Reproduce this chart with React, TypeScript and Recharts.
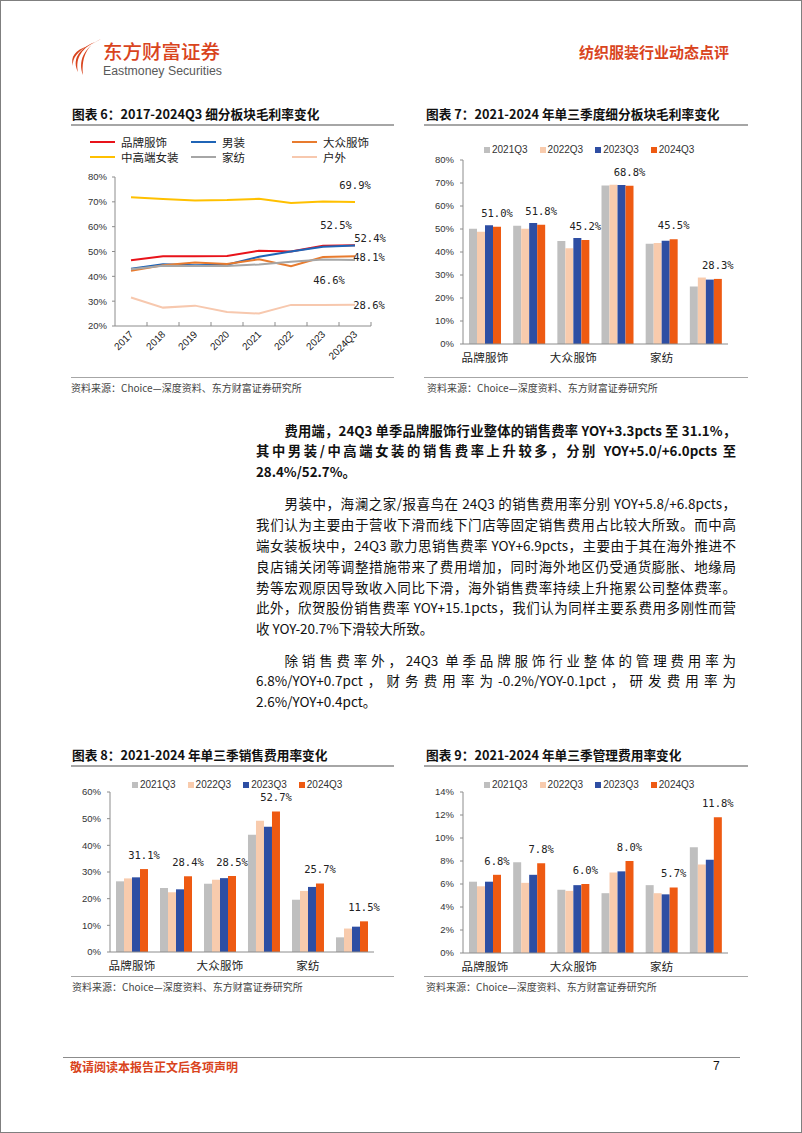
import React from "react";
import {
  LineChart,
  Line,
  BarChart,
  Bar,
  XAxis,
  YAxis,
  Legend,
  LabelList,
  ReferenceLine,
} from "recharts";

const CJK = '"Noto Sans CJK SC", "Noto Sans", sans-serif';
const LATIN = '"Liberation Sans", Arial, sans-serif';
const MONO = '"DejaVu Sans Mono", monospace';
const RED = "#D9441D";
const AXIS = "#8C8C8C";
const RULE = "#A6A6A6";

// 图表6：2017-2024Q3 细分板块毛利率（%）
const YEARS = ["2017", "2018", "2019", "2020", "2021", "2022", "2023", "2024Q3"];
const BRAND = [46.5, 48.1, 48.1, 48.2, 50.3, 50.0, 52.3, 52.5];
const MEN = [43.1, 44.9, 44.5, 44.7, 47.9, 50.0, 51.9, 52.4];
const MASS = [42.2, 44.5, 45.6, 45.0, 46.9, 44.1, 47.8, 48.1];
const WOMEN = [71.8, 71.1, 70.5, 70.7, 71.2, 69.5, 70.1, 69.9];
const HOME = [42.9, 44.3, 44.2, 44.2, 44.8, 45.9, 46.8, 46.6];
const OUTDOOR = [31.5, 27.4, 28.2, 25.6, 25.0, 28.5, 28.5, 28.6];
const LINE_TICKS = [20, 30, 40, 50, 60, 70, 80];

// 图表7-9：单三季度
const SEGMENTS = ["品牌服饰", "男装", "大众服饰", "中高端女装", "家纺", "户外"];
const QUARTERS = ["2021Q3", "2022Q3", "2023Q3", "2024Q3"];

const GM_21 = [50.1, 51.4, 44.8, 68.9, 43.6, 25.0];
const GM_22 = [48.8, 50.1, 41.6, 69.2, 43.9, 28.9];
const GM_23 = [51.6, 52.6, 46.1, 69.1, 44.9, 28.0];
const GM_24 = [51.0, 51.8, 45.2, 68.8, 45.5, 28.3];
const GM_TICKS = [0, 10, 20, 30, 40, 50, 60, 70, 80];

const SE_21 = [26.5, 24.0, 25.6, 44.0, 19.6, 5.5];
const SE_22 = [27.6, 22.4, 27.1, 49.2, 22.9, 8.8];
const SE_23 = [28.0, 23.5, 27.7, 47.0, 24.4, 9.5];
const SE_24 = [31.1, 28.4, 28.5, 52.7, 25.7, 11.5];
const SE_TICKS = [0, 10, 20, 30, 40, 50, 60];

const AD_21 = [6.2, 7.9, 5.5, 5.2, 5.9, 9.2];
const AD_22 = [5.8, 6.1, 5.4, 7.0, 5.2, 7.7];
const AD_23 = [6.2, 6.8, 5.9, 7.1, 5.1, 8.1];
const AD_24 = [6.8, 7.8, 6.0, 8.0, 5.7, 11.8];
const AD_TICKS = [0, 2, 4, 6, 8, 10, 12, 14];

const BAR_COLORS = ["#BFBFBF", "#F8CBAD", "#2E4EA3", "#EE5A12"];

const SOURCE = "资料来源：Choice—深度资料、东方财富证券研究所";

const PARAS = [
  {
    bold: true,
    lines: [
      "费用端，24Q3 单季品牌服饰行业整体的销售费率 YOY+3.3pcts 至 31.1%，",
      "其中男装/中高端女装的销售费率上升较多，分别 YOY+5.0/+6.0pcts 至",
      "28.4%/52.7%。",
    ],
  },
  {
    bold: false,
    lines: [
      "男装中，海澜之家/报喜鸟在 24Q3 的销售费用率分别 YOY+5.8/+6.8pcts，",
      "我们认为主要由于营收下滑而线下门店等固定销售费用占比较大所致。而中高",
      "端女装板块中，24Q3 歌力思销售费率 YOY+6.9pcts，主要由于其在海外推进不",
      "良店铺关闭等调整措施带来了费用增加，同时海外地区仍受通货膨胀、地缘局",
      "势等宏观原因导致收入同比下滑，海外销售费率持续上升拖累公司整体费率。",
      "此外，欣贺股份销售费率 YOY+15.1pcts，我们认为同样主要系费用多刚性而营",
      "收 YOY-20.7%下滑较大所致。",
    ],
  },
  {
    bold: false,
    lines: [
      "除销售费率外，24Q3 单季品牌服饰行业整体的管理费用率为",
      "6.8%/YOY+0.7pct，财务费用率为-0.2%/YOY-0.1pct，研发费用率为",
      "2.6%/YOY+0.4pct。",
    ],
  },
];

const pct = (v: number) => `${v}%`;

const lineRows = YEARS.map((year, i) => ({
  i,
  year,
  brand: BRAND[i],
  men: MEN[i],
  mass: MASS[i],
  women: WOMEN[i],
  home: HOME[i],
  outdoor: OUTDOOR[i],
}));

// label offsets for the end-of-line labels
const LINES = [
  { key: "brand", name: "品牌服饰", color: "#E8131A", dx: -19, dy: -20 },
  { key: "men", name: "男装", color: "#1F64B6", dx: 15, dy: -8 },
  { key: "mass", name: "大众服饰", color: "#E87B2E", dx: 14, dy: 1 },
  { key: "women", name: "中高端女装", color: "#FFC000", dx: 0, dy: -17 },
  { key: "home", name: "家纺", color: "#A6A6A6", dx: -26, dy: 20 },
  { key: "outdoor", name: "户外", color: "#F7C8AE", dx: 14, dy: 0 },
];

const LineLegend = ({ payload }: any) => {
  const order = LINES.map((s) => s.name);
  const items = [...(payload || [])].sort((a: any, b: any) => order.indexOf(a.value) - order.indexOf(b.value));
  return (
    <div
      style={{
        display: "grid",
        gridTemplateColumns: "101px 101px 101px",
        fontFamily: CJK,
        fontSize: 11.5,
        color: "#222",
      }}
    >
      {items.map((p: any) => (
        <div key={p.value} style={{ display: "flex", alignItems: "center", height: 15.3 }}>
          <span style={{ width: 25, height: 2, background: p.color, marginRight: 6 }} />
          {p.value}
        </div>
      ))}
    </div>
  );
};

const BarLegend = ({ payload }: any) => {
  const items = [...(payload || [])].sort((a: any, b: any) => QUARTERS.indexOf(a.value) - QUARTERS.indexOf(b.value));
  return (
    <div style={{ display: "flex", fontFamily: LATIN, fontSize: 10, color: "#333", whiteSpace: "nowrap" }}>
      {items.map((p: any) => (
        <div key={p.value} style={{ display: "flex", alignItems: "center", marginRight: 12 }}>
          <span style={{ width: 6, height: 6, background: p.color, marginRight: 2 }} />
          {p.value}
        </div>
      ))}
    </div>
  );
};

const YearTick = ({ x, y, payload }: any) => (
  <text
    x={x + 3}
    y={y + 1}
    textAnchor="end"
    transform={`rotate(-45, ${x + 3}, ${y + 1})`}
    fontSize={10}
    fill="#222"
    fontFamily={LATIN}
  >
    {YEARS[payload.value]}
  </text>
);

const endLabel = (p: any, dx: number, dy: number) => {
  if (p.index !== YEARS.length - 1) return null;
  return (
    <text
      x={p.x + dx}
      y={p.y + dy}
      textAnchor="middle"
      dominantBaseline="central"
      fontSize={10.5}
      fontFamily={MONO}
      fill="#222"
    >
      {Number(p.value).toFixed(1)}%
    </text>
  );
};

const MarginChart = () => (
  <LineChart width={340} height={240} data={lineRows} margin={{ top: 46, right: 30, bottom: 0, left: 0 }}>
    <XAxis
      dataKey="i"
      type="number"
      domain={[-0.5, 7.5]}
      ticks={YEARS.map((_, i) => i)}
      interval={0}
      tickLine={false}
      axisLine={{ stroke: AXIS }}
      height={45}
      tick={(props: any) => <YearTick {...props} />}
    />
    <YAxis
      domain={[20, 80]}
      ticks={LINE_TICKS}
      width={54}
      tickSize={3}
      tickMargin={5}
      tickFormatter={pct}
      axisLine={{ stroke: AXIS }}
      tickLine={{ stroke: AXIS }}
      tick={{ fontSize: 9.5, fill: "#333", fontFamily: LATIN }}
    />
    {YEARS.map((_, i) => (
      <ReferenceLine
        key={i}
        segment={[
          { x: i + 0.5, y: 20 },
          { x: i + 0.5, y: 21.6 },
        ]}
        stroke={AXIS}
      />
    ))}
    <Legend
      layout="horizontal"
      verticalAlign="middle"
      align="center"
      content={(props: any) => <LineLegend {...props} />}
      wrapperStyle={{ left: 29, top: 3, width: "auto" }}
    />
    {LINES.map((s) => (
      <Line
        key={s.key}
        type="linear"
        dataKey={s.key}
        name={s.name}
        stroke={s.color}
        strokeWidth={2}
        dot={false}
        isAnimationActive={false}
      >
        <LabelList content={(p: any) => endLabel(p, s.dx, s.dy)} />
      </Line>
    ))}
  </LineChart>
);

const QuarterBars = ({
  series,
  ticks,
  height,
  marginTop,
  marginRight,
  yWidth,
  legendLeft,
  legendTop,
}: {
  series: number[][];
  ticks: number[];
  height: number;
  marginTop: number;
  marginRight: number;
  yWidth: number;
  legendLeft: number;
  legendTop: number;
}) => {
  const rows = SEGMENTS.map((seg, i) => ({
    seg,
    q0: series[0][i],
    q1: series[1][i],
    q2: series[2][i],
    q3: series[3][i],
  }));
  return (
    <BarChart
      width={340}
      height={height}
      data={rows}
      margin={{ top: marginTop, right: marginRight, bottom: 0, left: 0 }}
      barCategoryGap="13.6%"
      barGap={0}
    >
      <XAxis
        dataKey="seg"
        interval={1}
        tickLine={false}
        tickMargin={4}
        axisLine={{ stroke: AXIS }}
        height={25}
        tick={{ fontSize: 11.5, fill: "#222", fontFamily: CJK, letterSpacing: 0.3 }}
      />
      <YAxis
        domain={[ticks[0], ticks[ticks.length - 1]]}
        ticks={ticks}
        width={yWidth}
        tickSize={3}
        tickMargin={6}
        tickFormatter={pct}
        axisLine={{ stroke: AXIS }}
        tickLine={{ stroke: AXIS }}
        tick={{ fontSize: 9.5, fill: "#333", fontFamily: LATIN }}
      />
      <Legend
        layout="horizontal"
        verticalAlign="middle"
        align="center"
        content={(props: any) => <BarLegend {...props} />}
        wrapperStyle={{ left: legendLeft, top: legendTop, width: "auto" }}
      />
      {QUARTERS.map((q, k) => (
        <Bar key={q} dataKey={`q${k}`} name={q} fill={BAR_COLORS[k]} isAnimationActive={false}>
          {k === QUARTERS.length - 1 && (
            <LabelList
              dataKey={`q${k}`}
              position="top"
              offset={10}
              formatter={(v: any) => `${Number(v).toFixed(1)}%`}
              fontSize={10.5}
              fontFamily={MONO}
              fill="#222"
            />
          )}
        </Bar>
      ))}
    </BarChart>
  );
};

const Abs = ({ x, y, children }: { x: number; y: number; children: React.ReactNode }) => (
  <div style={{ position: "absolute", left: x, top: y }}>{children}</div>
);

const Title = ({ x, y, text }: { x: number; y: number; text: string }) => (
  <div
    style={{
      position: "absolute",
      left: x,
      top: y - 9,
      fontFamily: CJK,
      fontWeight: 700,
      fontSize: 12.7,
      lineHeight: "18px",
      color: "#111",
      whiteSpace: "nowrap",
    }}
  >
    {text}
  </div>
);

const Rule = ({ x, y, w, h = 1 }: { x: number; y: number; w: number; h?: number }) => (
  <div style={{ position: "absolute", left: x, top: y, width: w, height: h, background: RULE }} />
);

const Source = ({ x, y }: { x: number; y: number }) => (
  <div
    style={{
      position: "absolute",
      left: x,
      top: y - 7,
      fontFamily: CJK,
      fontSize: 10,
      lineHeight: "14px",
      color: "#444",
      whiteSpace: "nowrap",
    }}
  >
    {SOURCE}
  </div>
);

const Logo = () => (
  <svg width={32} height={38} viewBox="0 0 32 38" style={{ position: "absolute", left: 69, top: 37 }}>
    <path d="M31 1 C19 6 11 17 13 37 C8 24 13 10 31 1 Z" fill={RED} />
    <path d="M25 4 C13 10 5 19 8 34 C2 22 8 11 25 4 Z" fill={RED} />
    <path d="M18 8 C8 13 2 20 3 28 C0 19 5 12 18 8 Z" fill={RED} />
  </svg>
);

const Body = () => (
  <div style={{ position: "absolute", left: 255, top: 419.6, width: 480, fontFamily: CJK, color: "#111" }}>
    {PARAS.map((para, pi) => (
      <div key={pi} style={{ marginBottom: 10.5, fontWeight: para.bold ? 700 : 400 }}>
        {para.lines.map((line, li) => {
          const last = li === para.lines.length - 1;
          return (
            <div
              key={li}
              style={{
                height: 20.8,
                lineHeight: "20.8px",
                fontSize: para.bold ? 13.3 : 13.5,
                marginLeft: li === 0 ? 28.5 : 0,
                textAlign: "justify",
                textAlignLast: last ? "left" : "justify",
              }}
            >
              {line}
            </div>
          );
        })}
      </div>
    ))}
  </div>
);

export default function App() {
  return (
    <div
      style={{
        position: "absolute",
        left: 0,
        top: 0,
        width: 802,
        height: 1133,
        boxSizing: "border-box",
        border: "1px solid #7F7F7F",
        background: "#fff",
        overflow: "hidden",
      }}
    >
      {/* header */}
      <Logo />
      <div
        style={{
          position: "absolute",
          left: 102,
          top: 39.5,
          fontFamily: CJK,
          fontSize: 19.5,
          lineHeight: "19px",
          fontWeight: 500,
          color: RED,
          whiteSpace: "nowrap",
        }}
      >
        东方财富证券
      </div>
      <div
        style={{
          position: "absolute",
          left: 102,
          top: 64,
          fontFamily: LATIN,
          fontSize: 12.3,
          lineHeight: "13px",
          color: "#595959",
          whiteSpace: "nowrap",
        }}
      >
        Eastmoney Securities
      </div>
      <div
        style={{
          position: "absolute",
          left: 578,
          top: 42,
          fontFamily: CJK,
          fontSize: 15,
          lineHeight: "18px",
          fontWeight: 700,
          color: RED,
          whiteSpace: "nowrap",
        }}
      >
        纺织服装行业动态点评
      </div>

      {/* 图表6 */}
      <Title x={71} y={113} text="图表 6：2017-2024Q3 细分板块毛利率变化" />
      <Rule x={70} y={123} w={323} h={1.5} />
      <Abs x={60} y={130}>
        <MarginChart />
      </Abs>
      <Rule x={70} y={376} w={323} />
      <Source x={70} y={386.5} />

      {/* 图表7 */}
      <Title x={425} y={113} text="图表 7：2021-2024 年单三季度细分板块毛利率变化" />
      <Rule x={423} y={123} w={324} h={1.5} />
      <Abs x={416} y={140}>
        <QuarterBars
          series={[GM_21, GM_22, GM_23, GM_24]}
          ticks={GM_TICKS}
          height={228}
          marginTop={19}
          marginRight={29}
          yWidth={46}
          legendLeft={67}
          legendTop={3}
        />
      </Abs>
      <Rule x={423} y={376} w={324} />
      <Source x={426} y={386.5} />

      <Body />

      {/* 图表8 */}
      <Title x={71} y={754} text="图表 8：2021-2024 年单三季销售费用率变化" />
      <Rule x={70} y={764} w={323} h={1.5} />
      <Abs x={60} y={770}>
        <QuarterBars
          series={[SE_21, SE_22, SE_23, SE_24]}
          ticks={SE_TICKS}
          height={206}
          marginTop={21}
          marginRight={27}
          yWidth={49}
          legendLeft={71}
          legendTop={8}
        />
      </Abs>
      <Rule x={70} y={975} w={323} />
      <Source x={71} y={985.5} />

      {/* 图表9 */}
      <Title x={425} y={754} text="图表 9：2021-2024 年单三季管理费用率变化" />
      <Rule x={423} y={764} w={324} h={1.5} />
      <Abs x={416} y={770}>
        <QuarterBars
          series={[AD_21, AD_22, AD_23, AD_24]}
          ticks={AD_TICKS}
          height={207}
          marginTop={21}
          marginRight={29}
          yWidth={46}
          legendLeft={67}
          legendTop={8}
        />
      </Abs>
      <Rule x={423} y={975} w={324} />
      <Source x={425} y={985.5} />

      {/* footer */}
      <div style={{ position: "absolute", left: 62, top: 1056, width: 677, height: 1, background: "#8C8C8C" }} />
      <div
        style={{
          position: "absolute",
          left: 69,
          top: 1058,
          fontFamily: CJK,
          fontSize: 12,
          lineHeight: "16px",
          fontWeight: 700,
          color: RED,
          whiteSpace: "nowrap",
        }}
      >
        敬请阅读本报告正文后各项声明
      </div>
      <div
        style={{
          position: "absolute",
          left: 712,
          top: 1057,
          fontFamily: LATIN,
          fontSize: 12,
          lineHeight: "16px",
          color: "#111",
        }}
      >
        7
      </div>
    </div>
  );
}
